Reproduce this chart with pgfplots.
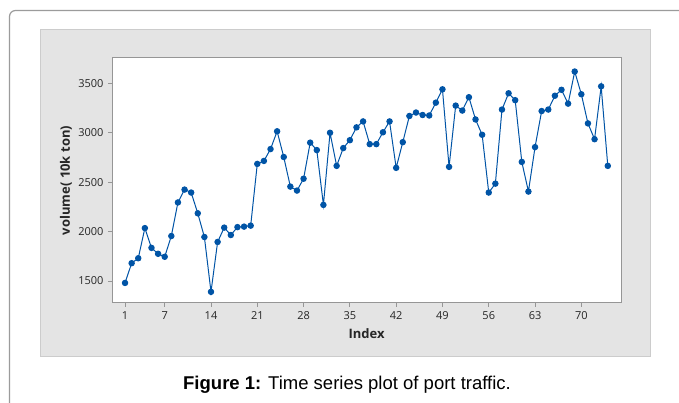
\documentclass[border=0pt]{standalone}
\usepackage{pgfplots}
\pgfplotsset{compat=1.18}
\usepackage{fontspec}
\setmainfont{Liberation Sans}
\newfontfamily\plotfont{Open Sans}

\definecolor{seriesblue}{RGB}{0,84,166}
\definecolor{panelgrey}{RGB}{228,228,228}
\definecolor{panelborder}{RGB}{204,204,204}
\definecolor{framegrey}{RGB}{155,155,155}
\definecolor{axisgrey}{RGB}{150,150,150}

% port traffic volume, in 10k ton, by period index
\pgfplotstableread{
idx vol
1 1480
2 1680
3 1730
4 2035
5 1835
6 1775
7 1745
8 1955
9 2295
10 2425
11 2395
12 2185
13 1945
14 1390
15 1895
16 2040
17 1965
18 2045
19 2050
20 2060
21 2685
22 2715
23 2835
24 3015
25 2755
26 2455
27 2415
28 2535
29 2900
30 2825
31 2270
32 3000
33 2665
34 2845
35 2925
36 3055
37 3115
38 2885
39 2885
40 3005
41 3115
42 2645
43 2905
44 3170
45 3205
46 3180
47 3175
48 3305
49 3440
50 2655
51 3275
52 3225
53 3360
54 3135
55 2980
56 2395
57 2485
58 3235
59 3400
60 3330
61 2705
62 2405
63 2855
64 3220
65 3235
66 3375
67 3435
68 3295
69 3620
70 3390
71 3095
72 2935
73 3470
74 2665
}\traffic

\begin{document}
\begin{tikzpicture}[x=1pt,y=1pt]
\path[use as bounding box] (0,0) rectangle (679,403);
% page frame
\draw[framegrey, line width=1.2pt, rounded corners=6pt] (680,392.5) -- (9.5,392.5) -- (9.5,-1);
% grey graph region
\filldraw[fill=panelgrey, draw=panelborder, line width=1pt] (40,46) rectangle (650,373);

\begin{axis}[
  at={(112pt,100pt)}, anchor=south west,
  scale only axis, width=509pt, height=245pt,
  xmin=-0.97, xmax=76, ymin=1277, ymax=3757,
  xtick={1,7,14,21,28,35,42,49,56,63,70},
  ytick={1500,2000,2500,3000,3500},
  xtick pos=bottom, ytick pos=left,
  tick align=outside, major tick length=4pt,
  tick style={axisgrey, line width=0.8pt},
  axis line style={axisgrey, line width=1pt},
  axis background/.style={fill=white},
  /pgf/number format/assume math mode=true,
  /pgf/number format/set thousands separator={},
  ticklabel style={font=\plotfont\fontsize{11}{13}\selectfont, text=black!85},
  xticklabel style={yshift=-1pt},
  yticklabel style={xshift=-1pt},
  xlabel={Index},
  ylabel={volume( 10k ton)},
  label style={font=\plotfont\bfseries\fontsize{13}{15}\selectfont, text=black!85},
  xlabel style={at={(axis description cs:0.5,-0.1265)}, anchor=center},
  ylabel style={at={(axis description cs:-0.0904,0.5)}, anchor=center},
]
\addplot[seriesblue, line width=1pt, mark=*, mark size=2.7pt,
  mark options={fill=seriesblue, draw=seriesblue}]
  table[x=idx, y=vol] {\traffic};
\end{axis}

% caption
\node[font=\fontsize{18.5}{22}\selectfont] at (347,18)
  {\textbf{Figure 1:} Time series plot of port traffic.};
\end{tikzpicture}
\end{document}
